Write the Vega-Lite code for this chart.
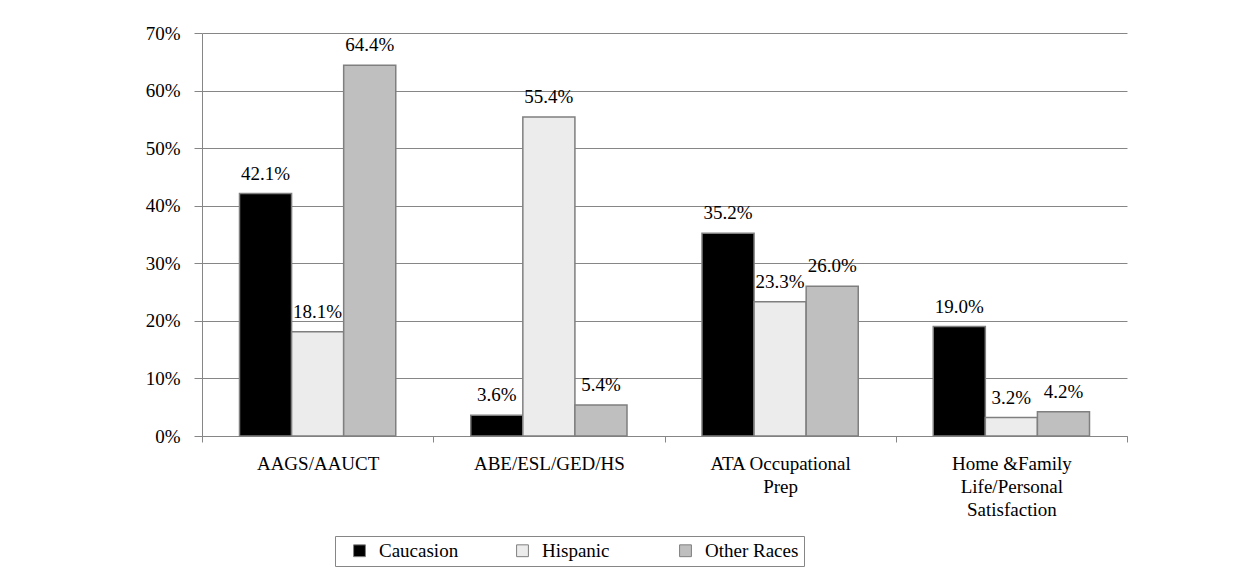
{
  "$schema": "https://vega.github.io/schema/vega-lite/v6.json",
  "width": 925,
  "height": 403,
  "autosize": {"type": "none"},
  "padding": {"left": 202, "top": 33, "right": 106, "bottom": 131},
  "background": "white",
  "data": {
    "values": [
      {"program": "AAGS/AAUCT", "group": "Caucasion", "value": 0.421},
      {"program": "AAGS/AAUCT", "group": "Hispanic", "value": 0.181},
      {"program": "AAGS/AAUCT", "group": "Other Races", "value": 0.644},
      {"program": "ABE/ESL/GED/HS", "group": "Caucasion", "value": 0.036},
      {"program": "ABE/ESL/GED/HS", "group": "Hispanic", "value": 0.554},
      {"program": "ABE/ESL/GED/HS", "group": "Other Races", "value": 0.054},
      {"program": "ATA Occupational|Prep", "group": "Caucasion", "value": 0.352},
      {"program": "ATA Occupational|Prep", "group": "Hispanic", "value": 0.233},
      {"program": "ATA Occupational|Prep", "group": "Other Races", "value": 0.26},
      {"program": "Home &Family|Life/Personal|Satisfaction", "group": "Caucasion", "value": 0.19},
      {"program": "Home &Family|Life/Personal|Satisfaction", "group": "Hispanic", "value": 0.032},
      {"program": "Home &Family|Life/Personal|Satisfaction", "group": "Other Races", "value": 0.042}
    ]
  },
  "encoding": {
    "x": {
      "field": "program",
      "type": "nominal",
      "sort": null,
      "scale": {"paddingInner": 0, "paddingOuter": 0},
      "axis": {
        "title": null,
        "labelAngle": 0,
        "labelExpr": "split(datum.label, '|')",
        "labelLineHeight": 23,
        "labelBaseline": "top",
        "labelPadding": 12,
        "labelLimit": 0,
        "tickBand": "extent",
        "tickSize": 6,
        "tickColor": "#868686",
        "domainColor": "#868686",
        "labelFont": "Liberation Serif",
        "labelFontSize": 19,
        "labelColor": "black"
      }
    },
    "xOffset": {
      "field": "group",
      "type": "nominal",
      "sort": ["Caucasion", "Hispanic", "Other Races"],
      "scale": {"paddingInner": 0, "paddingOuter": 0.72}
    },
    "y": {
      "field": "value",
      "type": "quantitative",
      "scale": {"domain": [0, 0.7], "nice": false},
      "axis": {
        "title": null,
        "format": ".0%",
        "values": [0, 0.1, 0.2, 0.3, 0.4, 0.5, 0.6, 0.7],
        "grid": true,
        "gridColor": "#868686",
        "gridOpacity": 1,
        "domainColor": "#868686",
        "tickColor": "#868686",
        "tickSize": 8,
        "labelPadding": 14,
        "labelFont": "Liberation Serif",
        "labelFontSize": 19,
        "labelColor": "black"
      }
    }
  },
  "layer": [
    {
      "mark": {"type": "bar", "stroke": "#7f7f7f", "strokeWidth": 1.5},
      "encoding": {
        "color": {
          "field": "group",
          "type": "nominal",
          "sort": ["Caucasion", "Hispanic", "Other Races"],
          "scale": {"domain": ["Caucasion", "Hispanic", "Other Races"], "range": ["#000000", "#ececec", "#bfbfbf"]},
          "legend": {
            "title": null,
            "orient": "none",
            "legendX": 133,
            "legendY": 503,
            "direction": "horizontal",
            "columns": 3,
            "gridAlign": "all",
            "strokeColor": "#868686",
            "fillColor": "white",
            "padding": 5,
            "symbolOffset": 10,
            "symbolType": "square",
            "symbolSize": 140,
            "symbolStrokeColor": "#7f7f7f",
            "symbolStrokeWidth": 1,
            "labelFont": "Liberation Serif",
            "labelFontSize": 19,
            "labelColor": "black",
            "columnPadding": 30,
            "labelOffset": 10
          }
        }
      }
    },
    {
      "mark": {"type": "text", "baseline": "bottom", "dy": -10, "font": "Liberation Serif", "fontSize": 19, "color": "black"},
      "encoding": {
        "text": {"field": "value", "type": "quantitative", "format": ".1%"}
      }
    }
  ],
  "config": {"view": {"stroke": null}, "font": "Liberation Serif"}
}
